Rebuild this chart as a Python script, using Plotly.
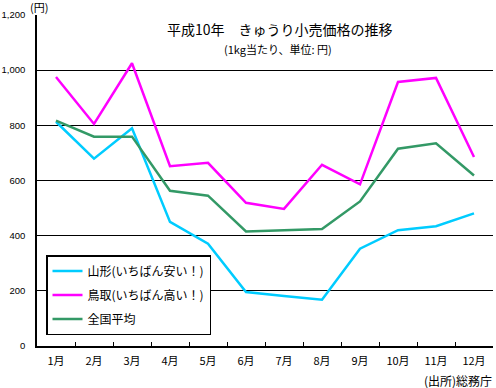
import plotly.graph_objects as go

months = ["1月", "2月", "3月", "4月", "5月", "6月", "7月", "8月", "9月", "10月", "11月", "12月"]
yamagata = [813, 679, 789, 450, 371, 196, 181, 168, 353, 420, 434, 481]
tottori = [975, 805, 1025, 652, 664, 519, 497, 657, 586, 957, 972, 685]
national = [817, 759, 759, 563, 545, 415, 420, 424, 524, 715, 735, 618]

names = ["山形(いちばん安い！)", "鳥取(いちばん高い！)", "全国平均"]
colors = ["#00CCFF", "#FF00FF", "#339966"]
series = [yamagata, tottori, national]

JP = "Noto Sans CJK JP"

fig = go.Figure()
for name, vals, col in zip(names, series, colors):
    fig.add_trace(go.Scatter(x=months, y=vals, name=name, mode="lines",
                             legendgroup=name,
                             line=dict(color=col, width=2.5)))

L, R, T, B = 37, 3, 15, 42
W, H = 496, 388
pw, ph = W - L - R, H - T - B


def px2paper(px, py):
    return (px - L) / pw, (H - B - py) / ph


ann_specs = [
    ("平成10年　きゅうり小売価格の推移", 280, 29, 14),
    ("(1kg当たり、単位: 円)", 278, 49, 11),
    ("(円)", 39, 7, 11),
    ("(出所)総務庁", 458, 381, 12),
]
annotations = []
for text, px, py, size in ann_specs:
    x, y = px2paper(px, py)
    annotations.append(dict(text=text, x=x, y=y, xref="paper", yref="paper",
                            xanchor="center", yanchor="middle", showarrow=False,
                            font=dict(size=size, family=JP)))

lx, ly = px2paper(46, 255)

fig.update_layout(
    width=W, height=H,
    margin=dict(l=L, r=R, t=T, b=B, autoexpand=False),
    paper_bgcolor="white", plot_bgcolor="white",
    font=dict(family=JP, color="black"),
    showlegend=True,
    legend=dict(x=lx, y=ly, xanchor="left", yanchor="top",
                bordercolor="black", borderwidth=1.5, bgcolor="white",
                font=dict(size=12, family=JP), tracegroupgap=5,
                itemwidth=30),
    xaxis=dict(type="category", range=[-0.5, 11.5], showline=True,
               linecolor="black", linewidth=1.5, ticks="inside",
               tickson="boundaries", ticklen=4, tickcolor="black",
               ticklabelstandoff=4,
               showgrid=False, tickfont=dict(size=11, family=JP), fixedrange=True),
    yaxis=dict(range=[0, 1200], dtick=200, showline=True, linecolor="black",
               linewidth=1.5, showgrid=True, gridcolor="black", gridwidth=1,
               tickformat=",", ticks="", ticklabelstandoff=8,
               tickfont=dict(size=9.5, family="Liberation Sans"), zeroline=False,
               fixedrange=True),
    annotations=annotations,
)

fig.write_html("out.html", config={"displayModeBar": False},
               post_script="document.body.style.margin='0px';")
